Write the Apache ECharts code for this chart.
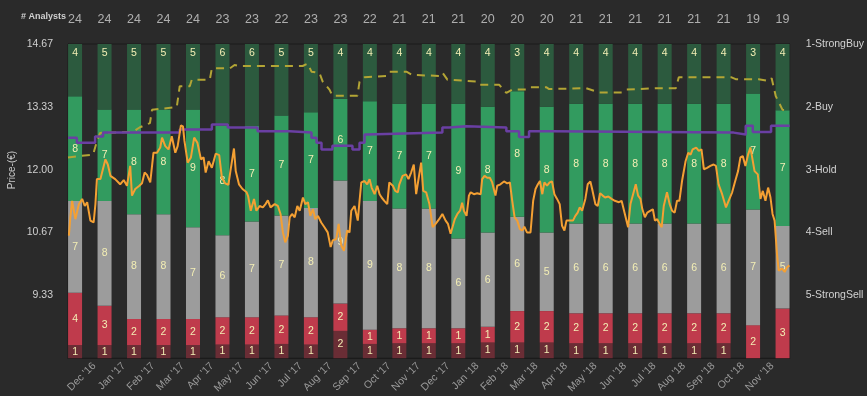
<!DOCTYPE html>
<html>
<head>
<meta charset="utf-8">
<script src="https://cdn.jsdelivr.net/npm/echarts@6/dist/echarts.min.js"></script>
<style>
html, body { margin: 0; padding: 0; background: #2a2a2a; }
#chart { width: 867px; height: 396px; }
</style>
</head>
<body>
<div id="chart"></div>
<script>
// x is counted in months from 1 Nov 2016
const monthLabels = ["Nov '16", "Dec '16", "Jan '17", "Feb '17", "Mar '17", "Apr '17", "May '17", "Jun '17",
  "Jul '17", "Aug '17", "Sep '17", "Oct '17", "Nov '17", "Dec '17", "Jan '18", "Feb '18", "Mar '18",
  "Apr '18", "May '18", "Jun '18", "Jul '18", "Aug '18", "Sep '18", "Oct '18", "Nov '18"];
const ratingNames = ["", "1-StrongBuy", "2-Buy", "3-Hold", "4-Sell", "5-StrongSell", ""];

// analyst counts per monthly snapshot
const strongBuy  = [4, 5, 5, 5, 5, 6, 6, 5, 5, 4, 4, 4, 4, 4, 4, 3, 4, 4, 4, 4, 4, 4, 4, 3, 4];
const buy        = [8, 7, 8, 8, 9, 8, 7, 7, 7, 6, 7, 7, 7, 9, 8, 8, 8, 8, 8, 8, 8, 8, 8, 7, 7];
const hold       = [7, 8, 8, 8, 7, 6, 7, 7, 8, 9, 9, 8, 8, 6, 6, 6, 5, 6, 6, 6, 6, 6, 6, 7, 5];
const sell       = [4, 3, 2, 2, 2, 2, 2, 2, 2, 2, 1, 1, 1, 1, 1, 2, 2, 2, 2, 2, 2, 2, 2, 2, 3];
const strongSell = [1, 1, 1, 1, 1, 1, 1, 1, 1, 2, 1, 1, 1, 1, 1, 1, 1, 1, 1, 1, 1, 1, 1, 0, 0];
const snapshotDay = 0.35; // snapshots taken ~11th of each month

// mean rating (right axis), [month, rating] held until next point
const meanRating = [[0.11, 2.49], [0.41, 2.57], [1.03, 2.47], [1.30, 2.41], [3.90, 2.36], [4.99, 2.28],
  [5.53, 2.33], [6.54, 2.39], [7.63, 2.41], [8.37, 2.49], [8.54, 2.57], [8.71, 2.68], [9.08, 2.62],
  [9.76, 2.68], [10.00, 2.57], [10.17, 2.44], [10.24, 2.41], [12.81, 2.33], [13.04, 2.31], [13.62, 2.33],
  [14.98, 2.39], [15.41, 2.48], [15.75, 2.39], [16.50, 2.41], [22.69, 2.44], [23.10, 2.30], [23.34, 2.40],
  [23.96, 2.30], [24.59, 2.30]];

// mean target price (€)
const targetPrice = [[0.11, 12.26], [0.96, 12.32], [1.09, 12.60], [1.20, 12.78], [2.31, 12.80], [2.55, 12.90],
  [2.89, 12.99], [2.96, 13.27], [3.80, 13.33], [3.90, 13.77], [4.24, 13.77], [4.31, 13.91], [4.92, 13.91],
  [4.99, 14.15], [5.60, 14.15], [5.76, 14.22], [5.93, 14.20], [8.07, 14.20], [8.24, 14.25], [8.37, 14.08],
  [8.64, 14.05], [8.75, 13.87], [8.98, 13.70], [9.08, 13.57], [9.93, 13.57], [10.00, 13.87], [10.17, 13.96],
  [10.91, 13.99], [11.01, 14.08], [11.59, 14.08], [11.79, 14.01], [12.71, 13.99], [12.81, 14.06], [12.98, 13.91],
  [13.96, 13.87], [14.06, 13.80], [14.74, 13.80], [14.98, 13.63], [15.18, 13.70], [15.65, 13.70], [15.75, 13.75],
  [16.33, 13.75], [16.43, 13.71], [17.68, 13.73], [18.12, 13.64], [18.90, 13.64], [19.04, 13.70], [20.15, 13.73],
  [20.73, 13.73], [20.83, 13.96], [22.62, 13.96], [22.76, 13.92], [23.54, 13.92], [23.88, 13.88], [23.98, 13.94],
  [24.12, 13.56], [24.35, 13.27], [24.59, 13.25]];

// share price (€)
const sharePrice = [[0.14,10.60],[0.19,10.99],[0.25,11.34],[0.36,10.95],[0.48,11.27],[0.59,11.38],[0.68,11.23],
  [0.76,11.31],[0.87,10.92],[0.98,10.88],[1.04,11.27],[1.09,11.80],[1.21,11.80],[1.38,12.22],[1.46,12.11],
  [1.55,11.87],[1.71,11.80],[1.88,11.69],[2.00,11.78],[2.11,11.66],[2.22,12.08],[2.28,11.45],[2.39,11.59],
  [2.53,11.66],[2.62,11.71],[2.71,11.94],[2.79,11.89],[2.90,11.73],[3.01,12.36],[3.13,12.36],[3.24,12.47],
  [3.30,12.68],[3.41,12.50],[3.52,12.43],[3.63,12.71],[3.75,12.36],[3.83,12.50],[3.94,12.94],[4.01,12.92],
  [4.06,12.61],[4.17,12.15],[4.28,12.26],[4.39,12.68],[4.50,12.57],[4.62,12.22],[4.71,12.26],[4.78,11.94],
  [4.88,12.18],[4.99,12.04],[5.12,12.34],[5.24,12.31],[5.33,11.83],[5.44,11.71],[5.55,11.68],[5.63,12.01],
  [5.74,12.45],[5.80,11.97],[5.91,11.69],[6.03,11.59],[6.17,11.52],[6.22,11.44],[6.31,11.13],[6.42,11.38],
  [6.50,11.13],[6.61,11.23],[6.72,11.20],[6.81,11.27],[6.89,11.35],[6.98,11.20],[7.12,11.27],[7.23,11.23],
  [7.32,11.06],[7.40,10.67],[7.48,10.46],[7.57,10.60],[7.63,10.99],[7.71,11.06],[7.80,10.99],[7.89,11.23],
  [7.97,11.13],[8.08,11.41],[8.16,11.27],[8.25,11.31],[8.33,11.02],[8.42,11.16],[8.50,10.95],[8.59,11.02],
  [8.70,10.88],[8.81,10.78],[8.92,10.67],[9.02,10.36],[9.09,10.50],[9.21,10.53],[9.29,10.85],[9.38,10.39],
  [9.47,10.28],[9.51,10.25],[9.58,10.71],[9.66,10.67],[9.72,11.13],[9.83,11.23],[9.94,10.92],[10.00,11.34],
  [10.06,11.73],[10.17,11.76],[10.26,11.69],[10.34,11.80],[10.41,11.62],[10.51,11.48],[10.60,11.66],
  [10.68,11.48],[10.75,11.41],[10.84,11.34],[10.94,11.27],[11.01,11.73],[11.13,11.66],[11.21,11.55],
  [11.30,11.52],[11.35,11.69],[11.46,11.87],[11.58,11.90],[11.66,11.80],[11.75,11.94],[11.84,12.11],
  [11.92,11.48],[11.99,11.76],[12.09,12.15],[12.16,11.55],[12.26,11.52],[12.37,11.27],[12.48,10.78],
  [12.58,10.85],[12.70,10.95],[12.81,11.06],[12.92,10.92],[13.00,10.85],[13.09,10.64],[13.15,10.64],
  [13.23,10.95],[13.32,11.06],[13.41,11.13],[13.48,11.30],[13.54,11.13],[13.63,11.02],[13.71,11.45],
  [13.77,11.52],[13.88,11.48],[13.99,11.50],[14.11,11.48],[14.16,11.80],[14.24,11.87],[14.33,11.83],
  [14.42,11.83],[14.50,11.73],[14.61,11.45],[14.67,11.66],[14.78,11.69],[14.90,11.75],[15.01,11.71],
  [15.10,11.73],[15.18,11.34],[15.26,10.99],[15.35,10.92],[15.44,10.74],[15.52,10.71],[15.59,10.79],
  [15.68,10.67],[15.80,10.67],[15.89,11.34],[15.97,11.59],[16.05,11.69],[16.12,11.76],[16.20,11.48],
  [16.27,11.73],[16.36,11.66],[16.45,11.73],[16.53,11.75],[16.61,11.48],[16.70,11.38],[16.79,11.27],
  [16.87,10.81],[16.95,10.71],[17.02,10.92],[17.13,10.92],[17.24,10.92],[17.32,11.02],[17.40,11.09],
  [17.47,11.20],[17.55,11.13],[17.66,11.38],[17.74,11.69],[17.83,11.75],[17.89,11.59],[18.00,11.27],
  [18.08,11.23],[18.16,11.50],[18.25,11.45],[18.33,11.41],[18.44,11.43],[18.55,11.38],[18.66,11.34],
  [18.80,11.31],[18.89,11.34],[19.00,11.06],[19.11,10.78],[19.19,11.27],[19.28,11.48],[19.37,11.69],
  [19.45,11.45],[19.53,11.38],[19.59,11.17],[19.68,10.99],[19.76,11.09],[19.87,11.13],[19.95,11.16],
  [20.02,10.92],[20.10,10.95],[20.18,10.85],[20.25,10.78],[20.32,11.23],[20.43,11.52],[20.52,11.27],
  [20.60,11.13],[20.69,11.09],[20.77,11.34],[20.85,11.34],[20.94,11.76],[21.06,12.18],[21.15,12.36],
  [21.23,12.32],[21.30,12.43],[21.42,12.47],[21.51,12.40],[21.60,12.43],[21.68,12.01],[21.79,12.04],
  [21.90,12.08],[22.01,12.11],[22.09,12.08],[22.18,11.69],[22.30,11.48],[22.43,11.20],[22.52,11.34],
  [22.64,11.52],[22.73,11.73],[22.84,11.97],[22.92,12.26],[23.00,12.29],[23.09,12.08],[23.18,12.32],
  [23.26,12.47],[23.31,12.43],[23.40,11.97],[23.51,11.90],[23.60,11.38],[23.68,11.55],[23.77,11.34],
  [23.86,11.62],[23.94,11.41],[24.01,11.06],[24.08,10.92],[24.16,10.22],[24.22,9.86],[24.28,9.83],
  [24.33,9.90],[24.42,9.83],[24.50,9.93],[24.58,9.97]];

const font = "'Liberation Sans', Arial, sans-serif";
const labelColor = '#f3eeb4';

const totals = strongBuy.map((v, i) => v + buy[i] + hold[i] + sell[i] + strongSell[i]);

// share first so the stack runs along y (both axes are value axes)
function barSeries(name, counts, color, pos) {
  return {
    name: name,
    type: 'bar',
    stack: 'ratings',
    xAxisIndex: 0,
    yAxisIndex: 2,
    barWidth: 14,
    encode: { x: 1, y: 0 },
    itemStyle: { color: color },
    label: {
      show: true,
      position: pos,
      distance: 4,
      color: labelColor,
      fontSize: 10.5,
      fontFamily: font,
      formatter: p => counts[p.dataIndex] ? String(counts[p.dataIndex]) : ''
    },
    data: counts.map((c, i) => [c / totals[i], i + snapshotDay]),
    z: 2
  };
}

const chart = echarts.init(document.getElementById('chart'));

const option = {
  backgroundColor: '#2a2a2a',
  animation: false,
  textStyle: { fontFamily: font },
  grid: { left: 68, right: 76, top: 44, bottom: 36, show: true, borderColor: '#1b1b1b', borderWidth: 1, backgroundColor: 'transparent' },
  graphic: [
    { type: 'text', x: 66, y: 17, style: { text: '# Analysts', textAlign: 'right', textVerticalAlign: 'middle', fill: '#d0d0d0', font: 'bold 9px ' + font } },
    { type: 'text', x: 12, y: 170, rotation: Math.PI / 2, style: { text: 'Price-(€)', textAlign: 'center', textVerticalAlign: 'middle', fill: '#c8c8c8', font: '10px ' + font } }
  ],
  xAxis: [{
    type: 'value',
    min: 0.11,
    max: 24.59,
    minInterval: 1,
    maxInterval: 1,
    splitNumber: 24,
    axisLine: { show: true, lineStyle: { color: '#1b1b1b' } },
    axisTick: { show: false },
    splitLine: { show: false },
    axisLabel: {
      rotate: 45,
      margin: 6,
      color: '#9a9a9a',
      fontSize: 10.5,
      fontFamily: font,
      hideOverlap: false,
      formatter: v => (Number.isInteger(v) && v >= 1 && v < monthLabels.length) ? monthLabels[v] : ''
    }
  }],
  yAxis: [{
    type: 'value',
    position: 'left',
    min: 8,
    max: 14.6667,
    interval: 1.33334,
    axisLine: { show: true, lineStyle: { color: '#1b1b1b' } },
    axisTick: { show: false },
    splitLine: { show: false },
    axisLabel: {
      margin: 15,
      color: '#cfcfcf',
      fontSize: 10.5,
      fontFamily: font,
      showMinLabel: false,
      formatter: v => v.toFixed(2)
    }
  }, {
    type: 'value',
    position: 'right',
    inverse: true,
    min: 1,
    max: 6,
    interval: 1,
    axisLine: { show: true, lineStyle: { color: '#1b1b1b' } },
    axisTick: { show: false },
    splitLine: { show: false },
    axisLabel: {
      margin: 16,
      color: '#d2d2d2',
      fontSize: 10.5,
      fontFamily: font,
      formatter: v => ratingNames[v] || ''
    }
  }, {
    type: 'value',
    show: false,
    min: 0,
    max: 1
  }],
  series: [
    barSeries('5-StrongSell', strongSell, '#6a2d35', 'inside'),
    barSeries('4-Sell', sell, '#bf3b4c', 'inside'),
    barSeries('3-Hold', hold, '#9c9c9c', 'inside'),
    barSeries('2-Buy', buy, '#329b5f', 'inside'),
    barSeries('1-StrongBuy', strongBuy, '#2c5a3e', 'insideTop'),
    {
      name: 'Analysts',
      type: 'scatter',
      xAxisIndex: 0,
      yAxisIndex: 2,
      clip: false,
      symbolSize: 1,
      itemStyle: { color: 'rgba(0,0,0,0)' },
      label: {
        show: true,
        position: 'inside',
        color: '#cfcfcf',
        fontSize: 12.5,
        fontFamily: font,
        formatter: p => String(totals[p.dataIndex])
      },
      data: totals.map((t, i) => [i + snapshotDay, 1.079]),
      z: 3
    },
    {
      name: 'Target price',
      type: 'line',
      xAxisIndex: 0,
      yAxisIndex: 0,
      showSymbol: false,
      lineStyle: { color: '#b3a535', width: 2, type: [8, 6] },
      data: targetPrice,
      z: 4
    },
    {
      name: 'Mean rating',
      type: 'line',
      xAxisIndex: 0,
      yAxisIndex: 1,
      step: 'end',
      showSymbol: false,
      lineStyle: { color: '#6a3fa3', width: 2.5 },
      data: meanRating,
      z: 4
    },
    {
      name: 'Price',
      type: 'line',
      xAxisIndex: 0,
      yAxisIndex: 0,
      showSymbol: false,
      lineStyle: { color: '#f4a033', width: 2 },
      data: sharePrice,
      z: 5
    }
  ]
};

chart.setOption(option);
</script>
</body>
</html>
